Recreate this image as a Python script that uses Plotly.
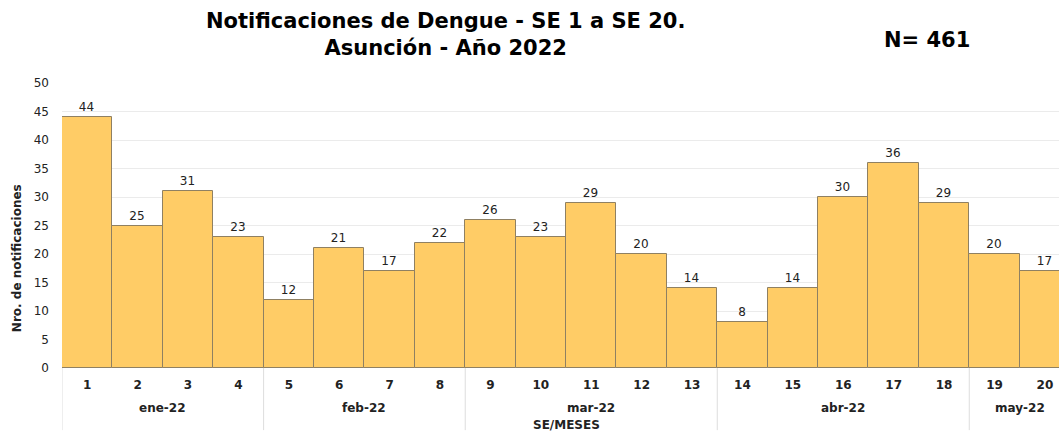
import plotly.graph_objects as go

weeks = list(range(1, 21))
values = [44, 25, 31, 23, 12, 21, 17, 22, 26, 23, 29, 20, 14, 8, 14, 30, 36, 29, 20, 17]
months = ["ene-22"] * 4 + ["feb-22"] * 4 + ["mar-22"] * 5 + ["abr-22"] * 5 + ["may-22"] * 2
y_ticks = list(range(0, 51, 5))

FONT = "DejaVu Sans"
BAR_COLOR = "#FFCC66"
EDGE_COLOR = "#8f8062"
TXT = "#222222"

fig = go.Figure()
fig.add_trace(go.Bar(
    x=weeks, y=values, width=1,
    marker=dict(color=BAR_COLOR, line=dict(color=EDGE_COLOR, width=1)),
    text=[str(v) for v in values], textposition="outside",
    textfont=dict(family=FONT, size=12, color=TXT),
    cliponaxis=False, hoverinfo="skip",
))

# month groups: compute spans from data
groups = []
for w, m in zip(weeks, months):
    if groups and groups[-1][0] == m:
        groups[-1][2] = w
    else:
        groups.append([m, w, w])

shapes = []
annotations = []
for m, a, b in groups:
    shapes.append(dict(type="line", xref="x", yref="paper", x0=a - 0.5, x1=a - 0.5,
                       y0=0, y1=-0.218, line=dict(color="#dddddd", width=1)))
    annotations.append(dict(x=(a + b) / 2, y=-0.14, xref="x", yref="paper", text="<b>%s</b>" % m,
                            showarrow=False, font=dict(family=FONT, size=12, color=TXT),
                            yanchor="middle"))

annotations.append(dict(x=0.5065, y=-0.2, xref="paper", yref="paper", text="<b>SE/MESES</b>",
                        xanchor="center", yanchor="middle", showarrow=False,
                        font=dict(family=FONT, size=12, color=TXT)))
annotations.append(dict(x=-0.045, y=0.386, xref="paper", yref="paper", text="<b>Nro. de notificaciones</b>",
                        textangle=-90, xanchor="center", yanchor="middle", showarrow=False,
                        font=dict(family=FONT, size=12, color=TXT)))
annotations.append(dict(x=0.385, y=1.170, xref="paper", yref="paper", xanchor="center",
                        yanchor="middle",
                        text="<b>Notificaciones de Dengue - SE 1 a SE 20.<br>Asunción - Año 2022</b>",
                        showarrow=False, font=dict(family=FONT, size=21, color="#000000")))
annotations.append(dict(x=0.868, y=1.151, xref="paper", yref="paper", xanchor="center",
                        yanchor="middle", text="<b>N= 461</b>", showarrow=False,
                        font=dict(family=FONT, size=21, color="#000000")))

fig.update_layout(
    width=1059, height=432,
    margin=dict(l=62, r=0, t=83, b=64, autoexpand=False),
    paper_bgcolor="white", plot_bgcolor="white",
    bargap=0, showlegend=False,
    font=dict(family=FONT, color=TXT),
    shapes=shapes, annotations=annotations,
    xaxis=dict(range=[0.5, 20.28], tickmode="array", tickvals=weeks, automargin=False,
               ticktext=["<b>%d</b>" % w for w in weeks], ticks="", showgrid=False,
               zeroline=False, showline=False, tickfont=dict(family=FONT, size=12, color=TXT),
               ticklabelstandoff=8),
    yaxis=dict(range=[0, 50], tickmode="array", tickvals=y_ticks, showgrid=True, automargin=False,
               gridcolor="#ebebeb", gridwidth=1, zeroline=False, showline=False, ticks="",
               tickfont=dict(family=FONT, size=12, color=TXT), ticklabelstandoff=12),
)

fig.write_html("out.html", config={"displayModeBar": False},
               post_script="document.body.style.margin='0';document.body.style.overflow='hidden';")
